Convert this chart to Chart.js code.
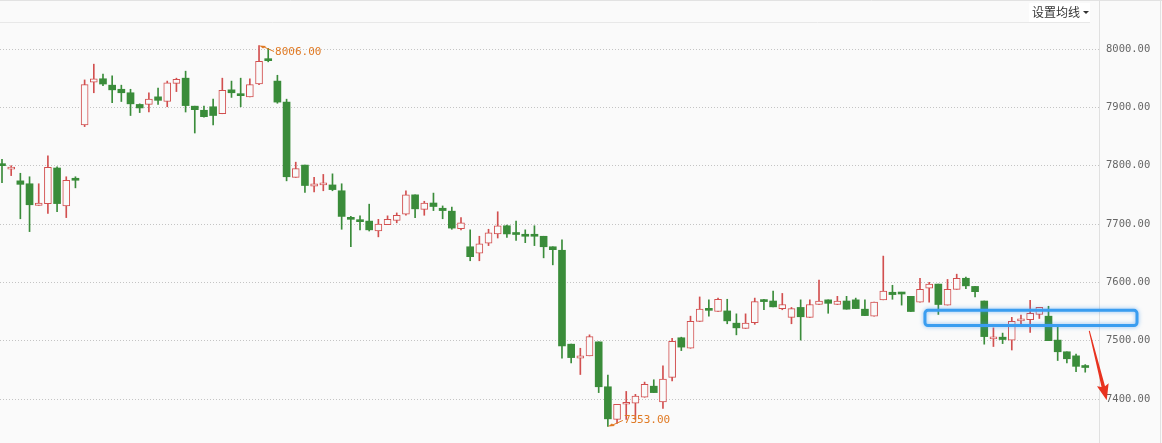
<!DOCTYPE html>
<html>
<head>
<meta charset="utf-8">
<script src="https://cdn.jsdelivr.net/npm/chart.js@4"></script>
<style>
html,body{margin:0;padding:0;background:#fafafa;}
#wrap{width:1162px;height:443px;position:relative;}
</style>
</head>
<body>
<div id="wrap"><canvas id="c"></canvas></div>
<script>
const opens  = [7801,7794,7774,7769,7732,7735,7796,7731,7776,7870,7943,7949,7938,7931,7925,7905,7905,7918,7910,7941,7950,7902,7895,7901,7889,7930,7921,7918,7940,7983,7945,7909,7780,7801,7765,7767,7767,7757,7709,7706,7705,7688,7699,7706,7717,7750,7725,7736,7727,7722,7692,7661,7650,7667,7683,7697,7683,7680,7680,7679,7661,7655,7494,7470,7474,7498,7421,7365,7391,7393,7403,7422,7395,7437,7505,7487,7533,7553,7550,7551,7530,7521,7531,7570,7568,7555,7540,7557,7540,7562,7570,7562,7568,7570,7554,7542,7570,7583,7581,7576,7566,7590,7597,7561,7588,7607,7593,7568,7503,7506,7501,7534,7536,7545,7542,7501,7481,7474,7455];
const highs  = [7811,7800,7787,7781,7769,7817,7798,7781,7781,7947,7974,7957,7954,7938,7931,7906,7925,7933,7945,7950,7962,7902,7902,7914,7950,7945,7950,7949,8006,8001,7955,7914,7806,7801,7780,7785,7786,7769,7713,7714,7734,7708,7714,7719,7757,7750,7739,7753,7731,7729,7711,7690,7679,7691,7721,7698,7705,7690,7697,7679,7661,7673,7494,7487,7510,7498,7441,7391,7413,7408,7429,7433,7457,7504,7506,7542,7575,7570,7573,7571,7546,7546,7573,7571,7585,7581,7557,7570,7570,7604,7570,7576,7576,7573,7570,7566,7645,7595,7583,7576,7607,7600,7597,7605,7614,7609,7593,7568,7522,7513,7540,7544,7569,7557,7559,7523,7481,7477,7459];
const lows   = [7771,7783,7709,7687,7732,7718,7721,7711,7762,7867,7925,7937,7908,7910,7886,7891,7892,7905,7901,7927,7892,7856,7883,7870,7889,7917,7901,7918,7939,7978,7907,7774,7780,7754,7755,7757,7757,7691,7661,7690,7688,7678,7699,7702,7715,7711,7715,7723,7709,7691,7690,7637,7637,7663,7676,7677,7672,7668,7663,7642,7630,7470,7462,7442,7474,7411,7353,7358,7365,7365,7403,7411,7384,7431,7483,7487,7533,7542,7550,7529,7510,7521,7528,7553,7558,7553,7529,7501,7540,7562,7547,7562,7554,7555,7543,7542,7570,7571,7561,7550,7566,7566,7545,7561,7588,7589,7575,7494,7490,7495,7484,7524,7514,7538,7500,7466,7462,7447,7446];
const closes = [7800,7797,7768,7733,7736,7797,7735,7775,7775,7939,7949,7940,7930,7925,7906,7899,7914,7912,7942,7948,7903,7896,7884,7886,7929,7925,7920,7939,7979,7980,7909,7781,7795,7766,7769,7768,7759,7713,7708,7704,7690,7700,7708,7715,7750,7726,7736,7730,7723,7693,7702,7644,7666,7685,7697,7683,7682,7679,7679,7661,7656,7491,7471,7474,7507,7421,7366,7391,7394,7405,7425,7411,7434,7499,7489,7533,7554,7552,7571,7534,7522,7530,7567,7567,7558,7562,7555,7541,7562,7568,7564,7568,7554,7555,7543,7566,7585,7579,7580,7550,7588,7597,7562,7588,7607,7594,7584,7507,7506,7502,7533,7537,7547,7557,7500,7481,7469,7456,7454];
const yTicks = [7400,7500,7600,7700,7800,7900,8000];
const menuLabel = '设置均线';
// highlight box (index range, value range) and trend arrow (index, value)
const boxRange = {i0:100.54, i1:123.64, v0:7526, v1:7552};
const arrowPts = {i0:118.44, v0:7517, i1:120.34, v1:7398};

const RED = '#d24f4f', GREEN = '#3a8c3a', BG = '#fafafa';
const idx = opens.map((_, i) => i);
const up = idx.map(i => closes[i] >= opens[i]);
const col = idx.map(i => up[i] ? RED : GREEN);

const hiIdx = highs.indexOf(Math.max(...highs));
const loIdx = lows.indexOf(Math.min(...lows));

const overlay = {
  id: 'overlay',
  beforeDraw(chart) {
    const c = chart.ctx, W = chart.width, H = chart.height;
    c.save();
    c.fillStyle = BG; c.fillRect(0, 0, W, H);
    c.strokeStyle = '#e2e2e2'; c.lineWidth = 1;
    c.beginPath(); c.moveTo(0, 0.5); c.lineTo(W, 0.5); c.stroke();
    c.beginPath(); c.moveTo(1160.5, 0); c.lineTo(1160.5, H); c.stroke();
    const ax = Math.round(chart.chartArea.right) + 0.5;
    c.strokeStyle = '#e0e0e0';
    c.beginPath(); c.moveTo(ax, 0); c.lineTo(ax, H); c.stroke();
    c.strokeStyle = '#e8e8e8';
    c.beginPath(); c.moveTo(0, 22.5); c.lineTo(chart.chartArea.right - 9, 22.5); c.stroke();
    c.restore();
  },
  afterDraw(chart) {
    const c = chart.ctx, xs = chart.scales.x, ys = chart.scales.y;
    c.save();
    // menu
    c.fillStyle = '#ffffff';
    c.fillRect(1029, 3, 61, 19);
    c.fillStyle = '#333';
    c.font = '12px "Noto Sans CJK SC"';
    c.textBaseline = 'middle';
    c.fillText(menuLabel, 1032, 12.5);
    c.beginPath(); c.moveTo(1083, 11); c.lineTo(1089, 11); c.lineTo(1086, 14); c.closePath(); c.fill();

    // max / min annotations
    const OR = '#e07a24';
    c.font = '11px "DejaVu Sans Mono"';
    c.fillStyle = OR; c.strokeStyle = OR; c.lineWidth = 1;
    let px = xs.getPixelForValue(hiIdx), py = ys.getPixelForValue(highs[hiIdx]);
    c.beginPath(); c.moveTo(px, py); c.lineTo(px + 7, py + 0.5); c.lineTo(px + 4, py + 3); c.closePath(); c.fill();
    c.beginPath(); c.moveTo(px + 5, py + 1.5); c.lineTo(px + 15, py + 6); c.stroke();
    c.textBaseline = 'middle';
    c.fillText(highs[hiIdx].toFixed(2), px + 16, py + 6.5);
    px = xs.getPixelForValue(loIdx); py = ys.getPixelForValue(lows[loIdx]);
    c.beginPath(); c.moveTo(px, py); c.lineTo(px + 7, py - 0.5); c.lineTo(px + 4, py - 3); c.closePath(); c.fill();
    c.beginPath(); c.moveTo(px + 5, py - 1.5); c.lineTo(px + 15, py - 6); c.stroke();
    c.fillText(lows[loIdx].toFixed(2), px + 16, py - 6.5);

    // highlight box
    const bx0 = xs.getPixelForValue(boxRange.i0), bx1 = xs.getPixelForValue(boxRange.i1);
    const by0 = ys.getPixelForValue(boxRange.v1), by1 = ys.getPixelForValue(boxRange.v0);
    c.shadowColor = 'rgba(60,150,240,0.6)'; c.shadowBlur = 4;
    c.strokeStyle = '#3a9df0'; c.lineWidth = 3;
    c.beginPath();
    if (c.roundRect) c.roundRect(bx0, by0, bx1 - bx0, by1 - by0, 3); else c.rect(bx0, by0, bx1 - bx0, by1 - by0);
    c.stroke();
    c.shadowBlur = 0; c.shadowColor = 'transparent';

    // red arrow
    const ax0 = xs.getPixelForValue(arrowPts.i0), ay0 = ys.getPixelForValue(arrowPts.v0);
    const ax1 = xs.getPixelForValue(arrowPts.i1), ay1 = ys.getPixelForValue(arrowPts.v1);
    const ang = Math.atan2(ay1 - ay0, ax1 - ax0);
    const L = Math.hypot(ax1 - ax0, ay1 - ay0);
    c.translate(ax0, ay0); c.rotate(ang);
    c.fillStyle = '#e8321f';
    c.beginPath();
    c.moveTo(0, -0.5); c.lineTo(L - 14, -1.8); c.lineTo(L - 16, -6); c.lineTo(L, 0);
    c.lineTo(L - 16, 6); c.lineTo(L - 14, 1.8); c.lineTo(0, 0.5); c.closePath(); c.fill();
    c.restore();
  }
};

new Chart(document.getElementById('c'), {
  type: 'bar',
  data: {
    datasets: [
      {
        label: 'wick',
        data: idx.map(i => ({x: i, y: [lows[i], highs[i]]})),
        backgroundColor: col,
        borderWidth: 0,
        barThickness: 1,
        grouped: false,
        order: 2,
        minBarLength: 1
      },
      {
        label: 'body',
        data: idx.map(i => ({x: i, y: [opens[i], closes[i]]})),
        backgroundColor: idx.map(i => up[i] ? BG : GREEN),
        borderColor: col,
        borderWidth: idx.map(i => up[i] ? 1 : 0),
        borderSkipped: false,
        barThickness: 7,
        grouped: false,
        order: 1,
        minBarLength: 2
      }
    ]
  },
  options: {
    responsive: true,
    maintainAspectRatio: false,
    animation: false,
    events: [],
    layout: {padding: {top: 22, bottom: 0, left: 0, right: 0}},
    plugins: {legend: {display: false}, tooltip: {enabled: false}},
    scales: {
      x: {
        type: 'linear',
        display: false,
        min: -0.218,
        max: 119.5,
        offset: false
      },
      y: {
        position: 'right',
        min: 7324.6,
        max: 8046.3,
        afterBuildTicks: s => { s.ticks = yTicks.map(v => ({value: v})); },
        afterFit: s => { s.width = 63; s.paddingTop = 0; s.paddingBottom = 0; },
        border: {display: false, dash: [1, 2]},
        grid: {
          color: '#c4c4c4',
          drawTicks: false
        },
        ticks: {
          padding: 7,
          color: '#666',
          font: {family: '"DejaVu Sans Mono"', size: 10.5},
          callback: v => Number(v).toFixed(2)
        }
      }
    }
  },
  plugins: [overlay]
});
</script>
</body>
</html>
